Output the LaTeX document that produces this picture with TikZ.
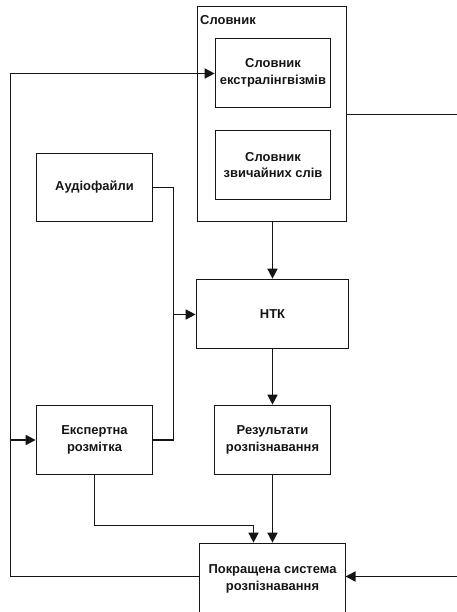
\documentclass[tikz,border=0pt]{standalone}
\usepackage{fontspec}
\setmainfont{Liberation Sans}
\usetikzlibrary{arrows.meta,calc}
\definecolor{ink}{HTML}{151515}
\begin{document}
\begin{tikzpicture}[x=1bp,y=-1bp,
  txt/.style={font=\fontsize{13}{16.5}\selectfont\bfseries,text=ink},
  box/.style={draw=ink,line width=1.7bp,align=center,inner sep=0pt,txt},
  conn/.style={draw=ink,line width=1.7bp},
  arr/.style={conn,-{Triangle[length=10bp,width=10bp]}}]
\useasboundingbox (0,0) rectangle (457,612);
\node[box,minimum width=149bp,minimum height=215bp] (slov) at (272,114) {};
\node[anchor=base west,inner sep=0pt,txt] (slovlab) at (200,25) {Словник};
\node[box,minimum width=115bp,minimum height=69bp] (ext) at (273,73) {Словник\\екстралінгвізмів};
\node[box,minimum width=115bp,minimum height=69bp] (zv) at (273,165) {Словник\\звичайних слів};
\node[box,minimum width=116bp,minimum height=68bp] (audio) at (94.5,187.5) {Аудіофайли};
\node[box,minimum width=152bp,minimum height=69bp] (htk) at (272.5,314) {НТК};
\node[box,minimum width=116bp,minimum height=69bp] (rez) at (272.5,440) {Результати\\розпізнавання};
\node[box,minimum width=116bp,minimum height=69bp] (exp) at (94.5,440) {Експертна\\розмітка};
\node[box,minimum width=146bp,minimum height=70.5bp] (pok) at (272.5,578.75) {Покращена система\\розпізнавання};
% junctions and bends
\coordinate (j) at (173.5,314.5);
\coordinate (eb) at (253.5,525.5);
\coordinate (lb) at (10.5,576.5);
\coordinate (pl) at (199.5,576.5);
\coordinate (pr) at (345.5,576.5);
\coordinate (rt) at (464,114.5);
\coordinate (rb) at (464,576.5);
% connectors
\draw[arr] (htk.north |- slov.south) -- (htk.north);
\draw[arr] (htk.south) -- (rez.north -| htk.south);
\draw[conn] (audio.east) -| (j) |- (exp.east);
\draw[arr] (j) -- (htk.west |- j);
\draw[arr] (exp.south) |- (eb) -- (eb |- pok.north);
\draw[arr] (rez.south -| htk.south) -- (pok.north -| htk.south);
\draw[arr] (pl) -- (lb) |- (ext.west |- 0,73.5);
\draw[arr] (lb |- exp.west) -- (exp.west);
\draw[arr] (slov.east |- rt) -- (rt) -- (rb) -- (pr);
\end{tikzpicture}
\end{document}
